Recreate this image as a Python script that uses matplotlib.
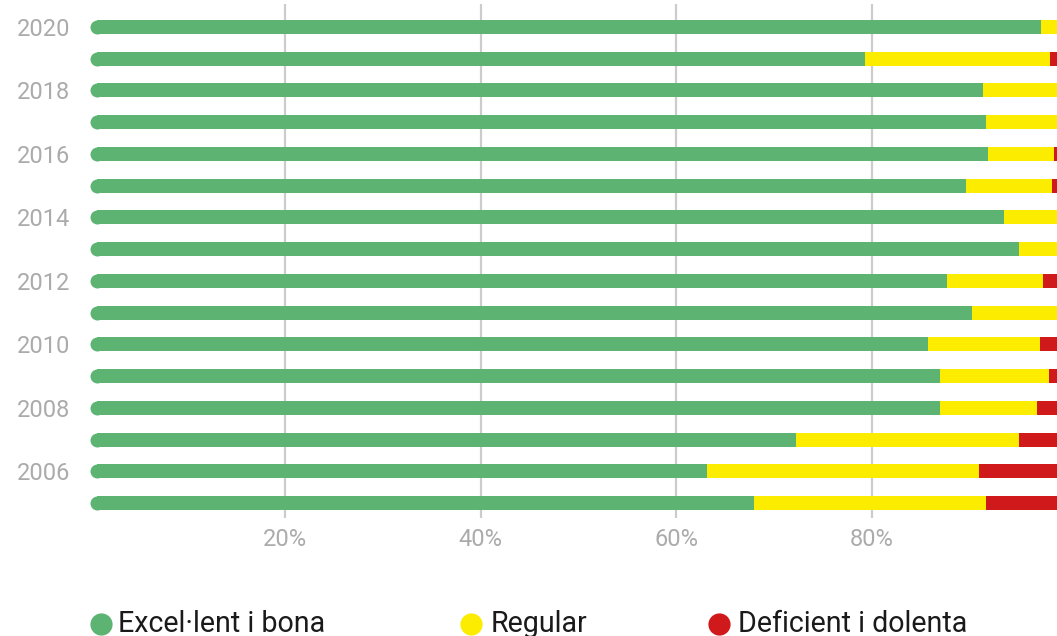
import matplotlib
matplotlib.use("Agg")
import matplotlib.pyplot as plt
from matplotlib.lines import Line2D
import numpy as np

years = [2005, 2006, 2007, 2008, 2009, 2010, 2011, 2012, 2013, 2014, 2015, 2016, 2017, 2018, 2019, 2020]
excellent = [68.0, 63.2, 72.3, 87.0, 87.0, 85.8, 90.3, 87.7, 95.1, 93.6, 89.7, 91.9, 91.7, 91.4, 79.3, 97.3]
regular = [23.7, 27.8, 22.8, 9.9, 11.2, 11.4, 9.7, 9.8, 4.9, 6.4, 8.8, 6.8, 8.3, 8.6, 19.0, 2.7]
deficient = [8.3, 9.0, 4.9, 3.1, 1.8, 2.8, 0.0, 2.5, 0.0, 0.0, 1.5, 1.3, 0.0, 0.0, 1.7, 0.0]
legend_labels = ["Excel·lent i bona", "Regular", "Deficient i dolenta"]
xticks = [20, 40, 60, 80]
xtick_labels = ["20%", "40%", "60%", "80%"]

c_green = "#5db372"
c_yellow = "#fcec00"
c_red = "#d0191b"
c_tick = "#ababab"

plt.rcParams['font.family'] = ['Roboto', 'DejaVu Sans']

W, H = 1057, 636
fig = plt.figure(figsize=(W / 100, H / 100), dpi=100)
x0, x1 = 89.5, 1067.0
ytop, ybot = 4.0, 518.0
ax = fig.add_axes([x0 / W, 1 - ybot / H, (x1 - x0) / W, (ybot - ytop) / H])

n = len(years)
pos = np.arange(n)
pitch = (503 - 27) / 15.0
ax.set_ylim((503 - ybot) / pitch, (503 - ytop) / pitch)
ax.set_xlim(0, 100)

bar_h = 14 / pitch
cap_r = 7.0 / ((x1 - x0) / 100)

exc = np.array(excellent)
reg = np.array(regular)
dfc = np.array(deficient)

ax.barh(pos, exc - cap_r, left=cap_r, height=bar_h, color=c_green, zorder=3, linewidth=0)
ax.barh(pos, reg, left=exc, height=bar_h, color=c_yellow, zorder=3, linewidth=0)
ax.barh(pos, dfc, left=exc + reg, height=bar_h, color=c_red, zorder=3, linewidth=0)
cap_size_pt = 14 * 72 / 100
ax.scatter(np.full(n, cap_r), pos, s=cap_size_pt ** 2, color=c_green, marker='o',
           linewidths=0, zorder=3, clip_on=False)

for t in xticks:
    ax.axvline(t, color="#cccccc", linewidth=1.6, zorder=1)

for s in ax.spines.values():
    s.set_visible(False)

ax.set_xticks(xticks)
ax.set_xticklabels(xtick_labels, color=c_tick, fontsize=17, fontweight='normal')
ax.tick_params(axis='x', length=0, pad=7)

ax.set_yticks(pos[1::2])
ax.set_yticklabels([str(y) for y in years[1::2]], color=c_tick, fontsize=17, fontweight='normal')
ax.tick_params(axis='y', length=0, pad=14)

leg_marker_x = [101, 471, 719]
leg_text_x = [118, 491, 738]
leg_y = 624
for mx, tx, lab, col in zip(leg_marker_x, leg_text_x, legend_labels, [c_green, c_yellow, c_red]):
    fig.add_artist(Line2D([mx / W], [1 - leg_y / H], marker='o', markersize=16,
                          color=col, markeredgewidth=0, linestyle='none'))
    fig.text(tx / W, 1 - 632 / H, lab, fontsize=20.6, color="#1a1a1a",
             ha='left', va='baseline', fontweight='normal')

fig.savefig("out.png", dpi=100)
